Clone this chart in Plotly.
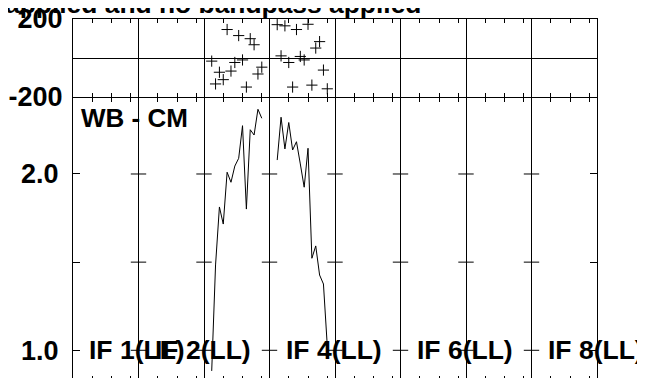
import plotly.graph_objects as go

# channel layout: 8 IFs, 17 channel slots each on the x axis
n_if = 8
slots = 17
channels = list(range(2, 16))

# IF 3 and IF 4 are the only IFs with data
if3_phase = [-16, -133, -73, -111, 146, -67, -23, 115, -10, -149, 99, 68, -82, -47]
if4_phase = [171, 11, 165, -23, -149, 146, 8, -10, 173, -139, 51, 84, -62, -158]
if3_amp = [0.883, 1.484, 1.813, 1.716, 2.010, 1.953, 2.045, 2.089, 2.274, 1.801, 2.251, 2.221, 2.367, 2.316]
if4_amp = [2.079, 2.322, 2.142, 2.292, 2.136, 2.183, 2.057, 1.925, 2.146, 1.522, 1.592, 1.427, 1.376, 1.024]

if_labels = ["IF 1(LL)", "IF 2(LL)", "IF 4(LL)", "IF 6(LL)", "IF 8(LL)"]
if_label_pos = [1, 2, 4, 6, 8]
amp_ticks = [1.0, 1.5, 2.0]
amp_ticktext = ["1.0", "", "2.0"]
phase_ticks = [-200, 200]
phase_ticktext = ["-200", "200"]

FONT = "Liberation Sans, Arial, sans-serif"


def xpos(if_num, chans):
    return [(if_num - 1) * slots + c for c in chans]


bounds = [k * slots for k in range(n_if + 1)]
minor_vals = [k * slots + m for k in range(n_if) for m in (5, 10, 15)]

fig = go.Figure()

# phase (top panel)
for if_num, ph in [(3, if3_phase), (4, if4_phase)]:
    fig.add_trace(go.Scatter(
        x=xpos(if_num, channels), y=ph, mode="markers",
        marker=dict(symbol="cross-thin", size=8, line=dict(width=1, color="black")),
        xaxis="x", yaxis="y", showlegend=False))

# amplitude (bottom panel)
for if_num, am in [(3, if3_amp), (4, if4_amp)]:
    fig.add_trace(go.Scatter(
        x=xpos(if_num, channels), y=am, mode="lines",
        line=dict(color="black", width=1),
        xaxis="x2", yaxis="y2", showlegend=False))

# short tick marks on the IF separators
inner = bounds[1:-1]
fig.add_trace(go.Scatter(
    x=[b for b in inner for _ in amp_ticks],
    y=[t for _ in inner for t in amp_ticks],
    mode="markers",
    marker=dict(symbol="line-ew", size=11, line=dict(width=1, color="black")),
    xaxis="x2", yaxis="y2", showlegend=False, hoverinfo="skip"))

xcommon = dict(
    range=[0, n_if * slots], tickvals=bounds, showticklabels=False, ticks="",
    showgrid=True, gridcolor="black", gridwidth=1, zeroline=False,
    showline=True, linecolor="black", linewidth=1, mirror="ticks",
    automargin=False,
    minor=dict(tickmode="array", tickvals=minor_vals, ticks="inside",
               ticklen=4, tickcolor="black", tickwidth=1, showgrid=False),
)

split = 282 / 361

fig.update_layout(
    width=645, height=378,
    margin=dict(l=65, r=56, t=11, b=6, autoexpand=False),
    paper_bgcolor="white", plot_bgcolor="white",
    font=dict(family=FONT, size=27, color="black", weight="bold"),
    xaxis=dict(anchor="y", **xcommon),
    xaxis2=dict(anchor="y2", matches="x", **xcommon),
    yaxis=dict(domain=[283 / 361, 1], range=[-200, 200], tickvals=phase_ticks,
               ticktext=phase_ticktext, automargin=False,
               ticklabeloverflow="allow",
               ticks="", showgrid=False, zeroline=True, zerolinecolor="black",
               zerolinewidth=1, showline=True, linecolor="black", mirror=True,
               ticklabelstandoff=4,
               tickfont=dict(family=FONT, size=27, weight="bold")),
    yaxis2=dict(domain=[0, split], range=[0.8315, 2.431], tickvals=amp_ticks,
                ticktext=amp_ticktext, ticks="inside", ticklen=7,
                automargin=False, ticklabeloverflow="allow",
                tickcolor="black", showgrid=False, zeroline=False,
                showline=True, linecolor="black", mirror="ticks",
                ticklabelstandoff=8,
                tickfont=dict(family=FONT, size=27, weight="bold")),
)

annotations = [
    dict(text="applied and no bandpass applied", xref="paper", yref="paper",
         x=-0.134, y=0.995, xanchor="left", yanchor="bottom", showarrow=False,
         font=dict(family=FONT, size=26.4, weight="bold")),
    dict(text="WB - CM", xref="x2", yref="y2", x=0, y=2.32,
         xanchor="left", yanchor="middle", xshift=6, showarrow=False,
         font=dict(family=FONT, size=26, weight="bold")),
]
for lab, pos in zip(if_labels, if_label_pos):
    annotations.append(dict(
        text=lab, xref="x2", yref="y2", x=(pos - 1) * slots, y=1.0,
        xanchor="left", yanchor="middle", xshift=14, showarrow=False,
        font=dict(family=FONT, size=26.5, weight="bold")))
fig.update_layout(annotations=annotations)

fig.write_html("out.html")
